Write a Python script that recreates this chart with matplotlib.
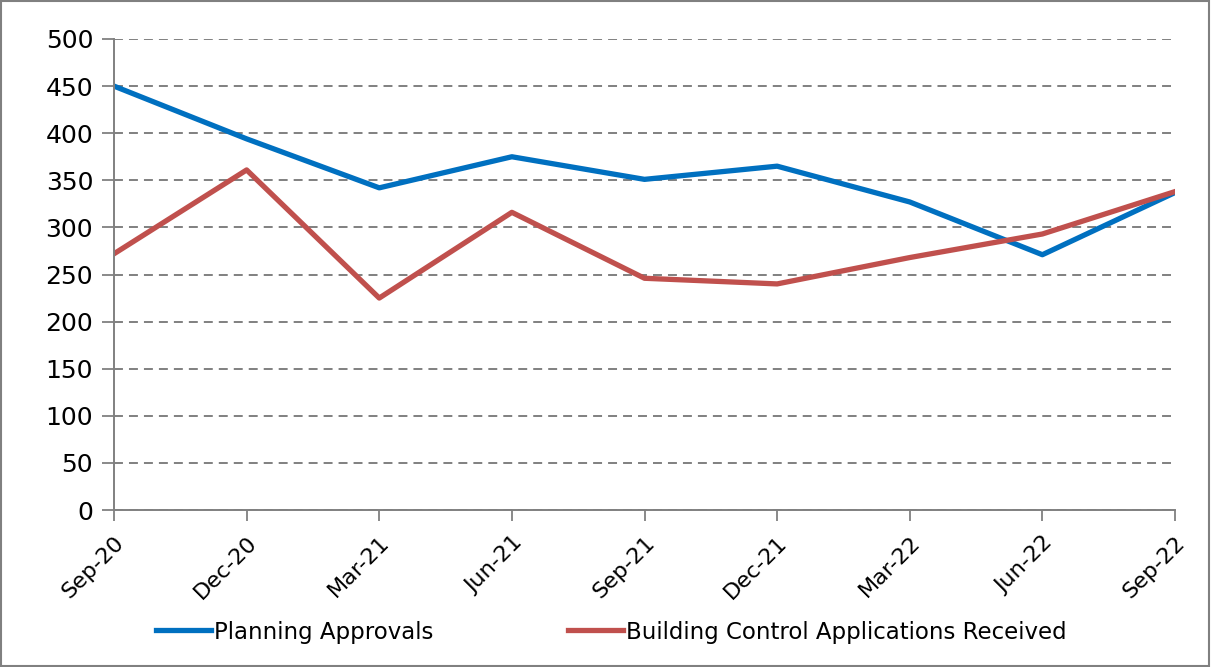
import matplotlib
matplotlib.use("Agg")
import matplotlib.pyplot as plt
from matplotlib.patches import Rectangle

quarters = ['Sep-20', 'Dec-20', 'Mar-21', 'Jun-21', 'Sep-21',
            'Dec-21', 'Mar-22', 'Jun-22', 'Sep-22']

planning_approvals = [450, 394, 342, 375, 351, 365, 327, 271, 337]
building_control = [272, 361, 225, 316, 246, 240, 268, 293, 338]

plt.rcParams['font.family'] = ['DejaVu Sans']

fig = plt.figure(figsize=(12.11, 6.67), dpi=100)
ax = fig.add_axes([114 / 1211, 1 - 510 / 667, (1175 - 114) / 1211, (510 - 39) / 667])

x = list(range(len(quarters)))
ax.plot(x, planning_approvals, color='#0070C0', lw=3.8, label='Planning Approvals')
ax.plot(x, building_control, color='#C0504D', lw=3.8,
        label='Building Control Applications Received')

ax.set_xlim(0, len(quarters) - 1)
ax.set_ylim(0, 500)
ax.set_yticks(range(0, 501, 50))
ax.set_xticks(x)
ax.set_xticklabels(quarters, rotation=45, ha='right', rotation_mode='anchor', fontsize=16)
ax.tick_params(axis='y', labelsize=18, length=9, color='#808080', width=1.3, pad=6)
ax.tick_params(axis='x', length=8, color='#808080', width=1.3, pad=8)

ax.grid(axis='y', color='#808080', ls=(0, (4.6, 3.1)), lw=1.4)
ax.set_axisbelow(True)
for side in ['top', 'right']:
    ax.spines[side].set_visible(False)
for side in ['left', 'bottom']:
    ax.spines[side].set_color('#808080')
    ax.spines[side].set_linewidth(1.4)

fig.legend(loc='center', bbox_to_anchor=(0.5 + 6 / 1211, 1 - 632 / 667), ncol=2,
           frameon=False, fontsize=16.5, handlelength=2.4, handletextpad=0.13,
           columnspacing=5.9)

fig.patches.append(Rectangle((0.001, 0.001), 0.997, 0.997, transform=fig.transFigure,
                             fill=False, edgecolor='#808080', lw=1.5))

fig.savefig('out.png', dpi=100)
